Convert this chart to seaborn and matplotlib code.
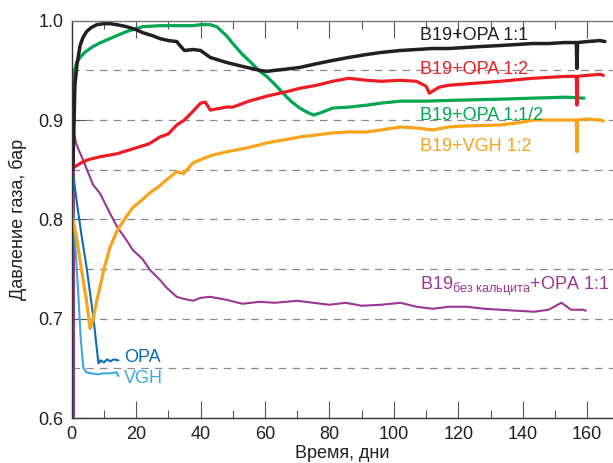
import matplotlib
matplotlib.use("Agg")
import matplotlib.pyplot as plt
import seaborn as sns
import numpy as np
from matplotlib.ticker import MultipleLocator

sns.set_theme(style="white")
plt.rcParams['font.family'] = ['Liberation Sans', 'DejaVu Sans']
plt.rcParams['mathtext.fontset'] = 'custom'
plt.rcParams['mathtext.rm'] = 'Liberation Sans'
plt.rcParams['mathtext.it'] = 'Liberation Sans'

# ---- data ----
black_x = [0.3, 0.6, 1, 1.6, 2.6, 3.5, 4.6, 6, 7.8, 10, 12, 14, 17, 20, 22, 25, 27.4, 30, 32.6, 33.6, 35,
           37.7, 40, 43, 48, 53, 58.4, 60.6, 63, 66, 70.9, 75, 81, 86, 91.6, 96, 101.9, 107, 112, 117, 122,
           127, 133, 138, 143, 148, 153, 156.6, 156.8, 157.0, 160, 164, 165.5]
black_y = [0.85, 0.88, 0.935, 0.955, 0.975, 0.983, 0.989, 0.993, 0.996, 0.997, 0.997, 0.996, 0.994, 0.991,
           0.988, 0.985, 0.982, 0.980, 0.979, 0.975, 0.970, 0.971, 0.970, 0.963, 0.958, 0.954, 0.950, 0.949,
           0.950, 0.951, 0.953, 0.956, 0.960, 0.963, 0.966, 0.968, 0.970, 0.971, 0.972, 0.972, 0.973, 0.974,
           0.975, 0.976, 0.977, 0.977, 0.978, 0.978, 0.952, 0.978, 0.979, 0.980, 0.979]

green_x = [0, 0.5, 1.5, 2.6, 4, 6.6, 9, 11.9, 14, 17, 20, 22, 27.4, 32, 37.7, 40, 43, 45, 48, 50, 53, 55.3,
           58.4, 60.5, 63, 65.6, 68, 70.8, 73, 75, 77, 81, 86, 91.6, 96, 101.9, 110, 120, 133, 143, 153.6, 159]
green_y = [0.85, 0.945, 0.958, 0.963, 0.968, 0.974, 0.978, 0.982, 0.985, 0.989, 0.992, 0.994, 0.995, 0.995,
           0.995, 0.996, 0.996, 0.994, 0.985, 0.977, 0.966, 0.959, 0.949, 0.944, 0.936, 0.927, 0.919, 0.912,
           0.908, 0.905, 0.907, 0.912, 0.913, 0.915, 0.917, 0.919, 0.919, 0.920, 0.921, 0.922, 0.923, 0.922]

red_x = [1, 3, 5, 8.8, 14, 19, 24, 27.4, 30, 32.6, 35, 38, 40, 41.5, 43, 48, 50, 55, 60.5, 66, 70.9, 76, 81,
         86, 91.6, 96, 101.9, 107, 110, 111, 114, 117, 125, 133, 143, 153.7, 156.6, 156.8, 157, 160, 164, 165]
red_y = [0.853, 0.857, 0.860, 0.863, 0.866, 0.871, 0.876, 0.883, 0.886, 0.895, 0.900, 0.910, 0.917, 0.918,
         0.910, 0.913, 0.913, 0.919, 0.924, 0.928, 0.932, 0.935, 0.939, 0.942, 0.940, 0.939, 0.940, 0.939,
         0.934, 0.927, 0.933, 0.935, 0.937, 0.939, 0.942, 0.944, 0.944, 0.915, 0.944, 0.945, 0.946, 0.945]

orange_x = [0.3, 1.5, 3, 4.5, 5.7, 6.6, 7.8, 8.8, 10, 11.9, 14, 17, 19, 22, 24, 27.4, 29.5, 32.6, 34.7, 37.7,
            40, 43, 48, 53, 58.4, 60.5, 66, 70.9, 76, 81, 86, 91.6, 96, 102, 107, 112, 117, 122, 133, 138,
            143.6, 150, 156.6, 156.8, 157, 160, 164, 165]
orange_y = [0.80, 0.782, 0.75, 0.72, 0.690, 0.698, 0.719, 0.732, 0.75, 0.772, 0.788, 0.803, 0.812, 0.820,
            0.826, 0.834, 0.840, 0.848, 0.846, 0.857, 0.860, 0.864, 0.868, 0.871, 0.875, 0.877, 0.880, 0.883,
            0.885, 0.887, 0.888, 0.888, 0.890, 0.893, 0.892, 0.890, 0.893, 0.894, 0.895, 0.897, 0.900, 0.900,
            0.900, 0.868, 0.900, 0.901, 0.900, 0.899]

purple_x = [0.7, 0.7, 1.5, 3.5, 6.6, 8.8, 11.9, 14, 17, 19, 22, 24.3, 27.4, 29.5, 32.6, 34.7, 37.7, 40, 43, 48,
            53, 58.4, 63, 70, 75, 80, 85, 90, 96, 102, 107, 112, 117, 122.6, 128, 133, 138, 143.6, 148, 152,
            155, 158.8, 159.5]
purple_y = [0.6, 0.887, 0.875, 0.860, 0.835, 0.826, 0.806, 0.793, 0.779, 0.769, 0.760, 0.749, 0.739, 0.731,
            0.722, 0.720, 0.718, 0.721, 0.722, 0.719, 0.715, 0.717, 0.716, 0.718, 0.716, 0.714, 0.716, 0.713,
            0.714, 0.716, 0.712, 0.710, 0.712, 0.712, 0.710, 0.709, 0.708, 0.707, 0.709, 0.716, 0.709, 0.709,
            0.708]

opa_x = [0, 0, 0.5, 1.5, 3, 4.6, 6.7, 8.3, 9, 10, 11, 12, 13, 14.5]
opa_y = [0.6, 0.855, 0.845, 0.819, 0.785, 0.752, 0.702, 0.655, 0.658, 0.656, 0.659, 0.657, 0.659, 0.658]

vgh_x = [0, 0, 0.8, 2, 2.8, 3.6, 4.5, 6, 8, 10, 12, 14, 14.5]
vgh_y = [0.6, 0.831, 0.79, 0.728, 0.68, 0.651, 0.646, 0.645, 0.644, 0.645, 0.645, 0.646, 0.642]

x_ticks = [0, 20, 40, 60, 80, 100, 120, 140, 160]
y_ticks = [0.6, 0.7, 0.8, 0.9, 1.0]

C_BLACK = '#231f20'
C_RED = '#ed1c24'
C_GREEN = '#00a651'
C_ORANGE = '#f9a31b'
C_PURPLE = '#9b3595'
C_OPA = '#0a6db5'
C_VGH = '#3aa9e0'

fig = plt.figure(figsize=(6.13, 4.63), dpi=100)
ax = fig.add_axes([71.7 / 613, (463 - 418) / 463, 1 - 71.7 / 613, (418 - 20.7) / 463])

# grid
for gy in [0.65, 0.7, 0.75, 0.8, 0.85, 0.9, 0.95]:
    ax.axhline(gy, color='#8a8a8a', lw=0.9, ls=(0, (6, 5)), zorder=0)

series = [
    (purple_x, purple_y, C_PURPLE, 1.5),
    (vgh_x, vgh_y, C_VGH, 1.5),
    (opa_x, opa_y, C_OPA, 1.5),
    (orange_x, orange_y, C_ORANGE, 2.3),
    (green_x, green_y, C_GREEN, 2.3),
    (red_x, red_y, C_RED, 2.3),
    (black_x, black_y, C_BLACK, 2.5),
]
for xs, ys, c, lw in series:
    sns.lineplot(x=xs, y=ys, color=c, lw=lw, ax=ax, estimator=None, sort=False)

ax.set_xlim(0, 168)
ax.set_ylim(0.6, 1.0)
ax.set_xticks(x_ticks)
ax.set_yticks(y_ticks)
ax.set_yticklabels([f"{v:.1f}" for v in y_ticks])
ax.xaxis.set_minor_locator(MultipleLocator(10))
ax.yaxis.set_minor_locator(MultipleLocator(0.05))
ax.tick_params(axis='x', which='major', direction='in', length=12, width=0.8, color='#555555',
               top=True, bottom=True, labelsize=13, labelcolor='#231f20', pad=6)
ax.tick_params(axis='x', which='minor', direction='in', length=6, width=0.8, color='#555555',
               top=True, bottom=True)
ax.tick_params(axis='y', which='major', direction='in', length=10, width=0.8, color='#555555',
               left=True, labelsize=13, labelcolor='#231f20', pad=6)
ax.tick_params(axis='y', which='minor', direction='in', length=0, left=False)

for s in ['left', 'bottom']:
    ax.spines[s].set_color('#333333')
    ax.spines[s].set_linewidth(1.0)
ax.spines['top'].set_color('#777777')
ax.spines['top'].set_linewidth(1.0)
ax.spines['right'].set_visible(False)

ax.set_xlabel('Время, дни', fontsize=13, color='#231f20', labelpad=1)
ax.set_ylabel('Давление газа, бар', fontsize=13, color='#231f20', labelpad=8)

fs = 13
ax.text(108.1, 0.9856, 'B19+OPA 1:1', color=C_BLACK, fontsize=fs, va='center', ha='left')
ax.text(108.1, 0.9504, 'B19+OPA 1:2', color=C_RED, fontsize=fs, va='center', ha='left')
ax.text(108.1, 0.905, 'B19+OPA 1:1/2', color=C_GREEN, fontsize=fs, va='center', ha='left')
ax.text(108.1, 0.8729, 'B19+VGH 1:2', color=C_ORANGE, fontsize=fs, va='center', ha='left')
ax.text(108.1, 0.732, r'B19$_{\mathrm{без\ кальцита}}$+OPA 1:1', color=C_PURPLE, fontsize=fs,
        va='center', ha='left')
ax.text(16.3, 0.661, 'OPA', color=C_OPA, fontsize=fs, va='center', ha='left')
ax.text(16.3, 0.640, 'VGH', color=C_VGH, fontsize=fs, va='center', ha='left')

fig.savefig('out.png', dpi=100)
